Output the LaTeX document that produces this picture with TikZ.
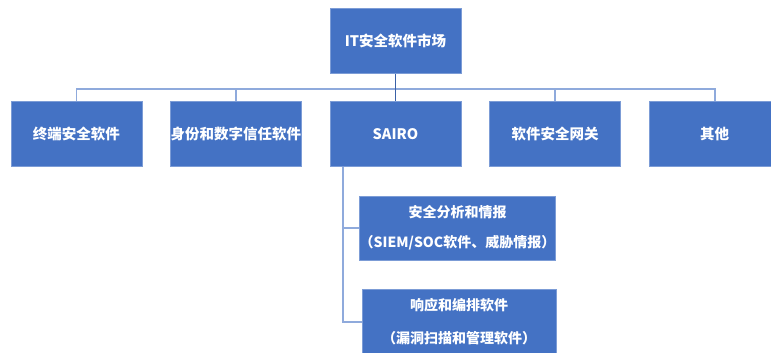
\documentclass[tikz,border=0pt]{standalone}
\usepackage{fontspec}
\setmainfont{Noto Sans CJK SC}
\definecolor{boxblue}{HTML}{4472C4}
\definecolor{linkblue}{HTML}{8FAADC}
\usepackage{tikz}
\usetikzlibrary{positioning}

\begin{document}
\begin{tikzpicture}[x=1pt, y=-1pt, font=\fontsize{14.5pt}{17pt}\selectfont\bfseries]
    \tikzstyle{market}=[fill=boxblue, draw=boxblue!70!white, line width=0.6pt,
                        text=white, minimum width=131pt, minimum height=65pt,
                        inner sep=0pt, align=center]
    \tikzstyle{sub}=[market, font=\fontsize{14pt}{17pt}\selectfont\bfseries]
    \tikzstyle{link}=[draw=linkblue, line width=1.6pt]
    \tikzstyle{trunk}=[draw=boxblue!85!black, line width=1.8pt]

    \useasboundingbox (0,0) rectangle (771,353);

    \node[market] (top) at (395.5,41) {IT安全软件市场};
    \node[market] (sairo) at (395.5,134) {SAIRO};
    \node[market, left=28pt of sairo] (ident) {身份和数字信任软件};
    \node[market, left=28pt of ident] (endpt) {终端安全软件};
    \node[market, right=28pt of sairo] (gate) {软件安全网关};
    \node[market, right=28pt of gate] (other) {其他};

    \node[sub, minimum width=191pt, minimum height=64pt] (analy) at (457.5,228)
        {安全分析和情报\\[13pt]（SIEM/SOC软件、威胁情报）};
    \node[sub, minimum width=194pt, minimum height=66pt] (resp) at (459,322)
        {响应和编排软件\\[16pt]（漏洞扫描和管理软件）};

    % bus from the market box to the row
    \foreach \n in {endpt,ident,gate,other}
      \draw[link] (top.south) -- ++(0,15) -| (\n.north);
    \draw[trunk] (top.south) -- (sairo.north);

    % SAIRO branches
    \draw[link] ([xshift=13pt]sairo.south west) |- (analy.west);
    \draw[link] ([xshift=13pt]sairo.south west) |- (resp.west);
\end{tikzpicture}
\end{document}
